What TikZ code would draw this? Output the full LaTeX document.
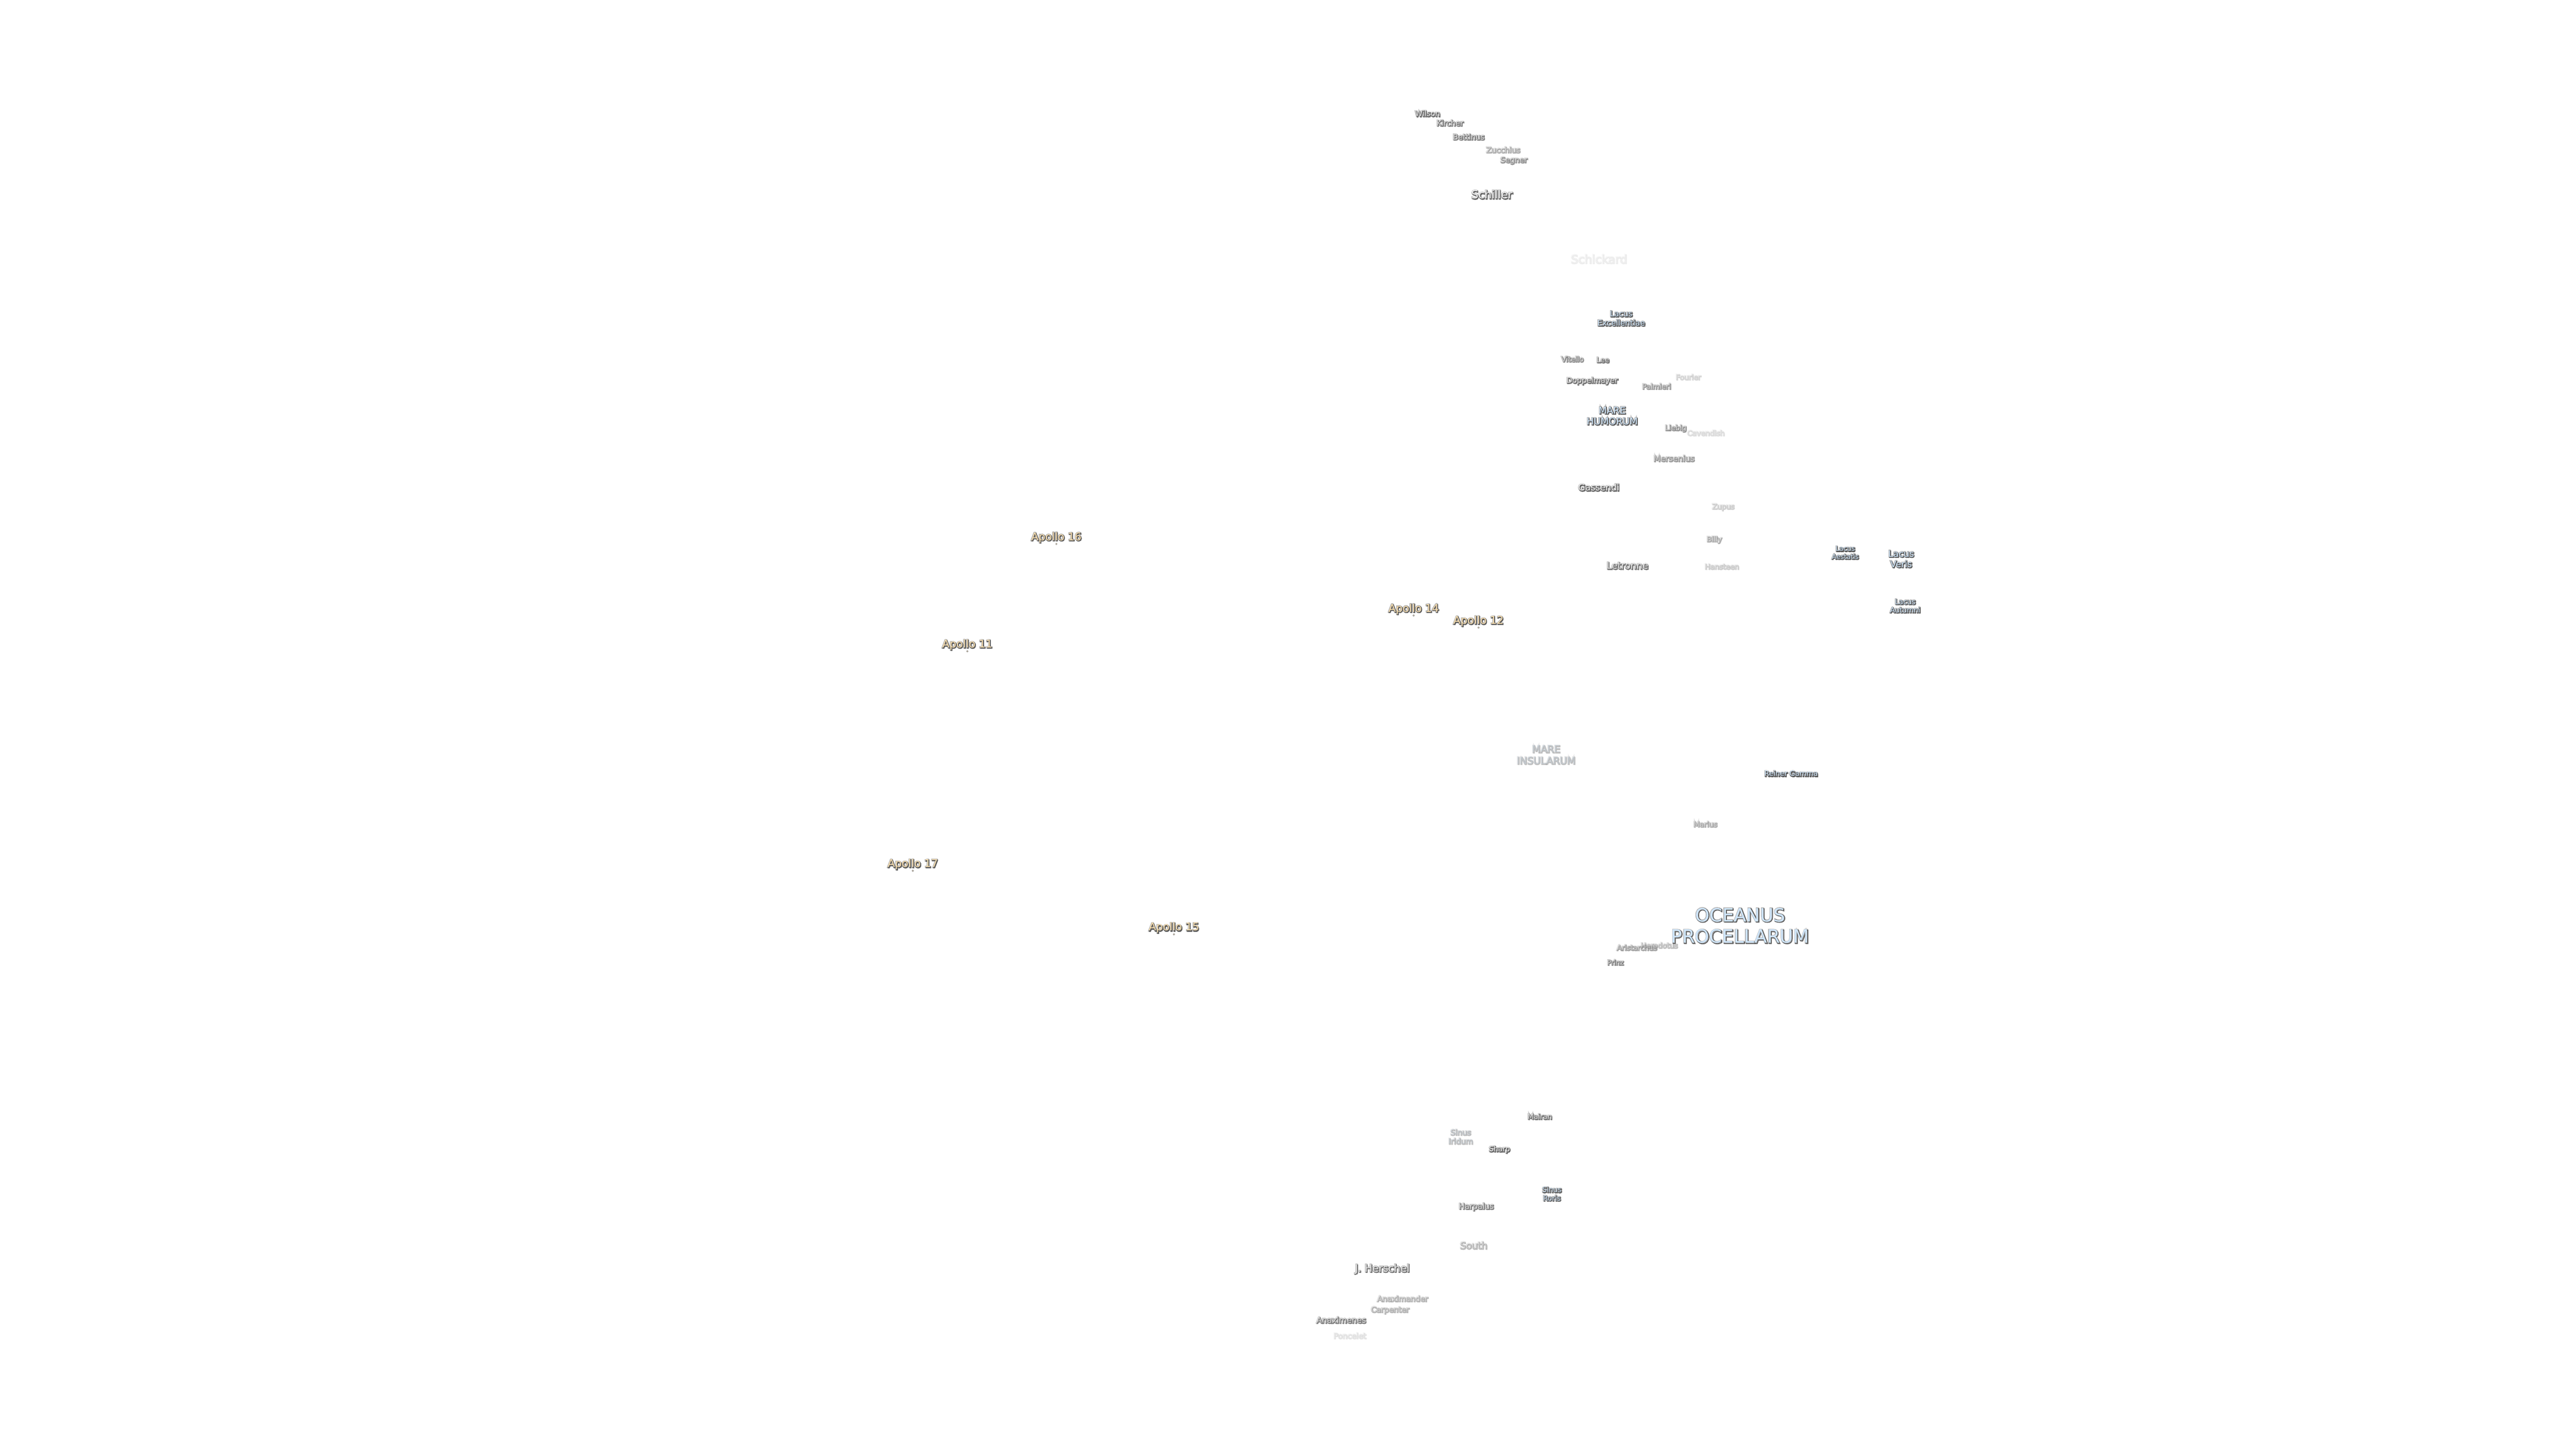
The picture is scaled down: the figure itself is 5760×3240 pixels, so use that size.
\documentclass[tikz,border=0pt]{standalone}
\usepackage{fontspec}
\usepackage{xcolor}
\setmainfont{DejaVu Sans}
\definecolor{waterblue}{HTML}{CFE6FB}
\definecolor{apollotan}{HTML}{FBE0B0}
\newcommand{\strokeset}[2]{\special{pdf:code #1 G #2 w 1 Tr}}
\newcommand{\maplabel}[7]{%
    \begin{scope}[opacity=#6]
        \node[maplayer, font=\fontsize{#5bp}{1.17\dimexpr#5bp\relax}\selectfont] (#1-halo) at (#3,#4) {\strokeset{0.68}{3.2}#7};
        \node[maplayer, font=\fontsize{#5bp}{1.17\dimexpr#5bp\relax}\selectfont, xshift=1.2bp, yshift=-1.2bp] (#1-shade) at (#3,#4) {\strokeset{0.36}{2.0}#7};
        \node[maplayer, #2, font=\fontsize{#5bp}{1.17\dimexpr#5bp\relax}\selectfont] (#1) at (#3,#4) {#7};
    \end{scope}}
\tikzset{
    maplayer/.style={inner sep=0pt, align=center},
    crater/.style={text=white},
    water/.style={text=waterblue},
    apollo/.style={text=apollotan},
    apollodot/.style={circle, inner sep=0pt, minimum size=3.6bp, draw=black!45, line width=0.9bp, fill=apollotan}
}
\begin{document}
\begin{tikzpicture}[x=1bp, y=-1bp]
    \useasboundingbox (0,0) rectangle (5760,3240);
    \foreach \nm/\x/\y/\sz/\op/\txt in {
        wilson/3192/254/17/.8/Wilson, kircher/3242/275/17/.7/Kircher, bettinus/3284/306/17/.7/Bettinus,
        zucchius/3361/335/17/.4/Zucchius, segner/3385/359/17/.55/Segner, schiller/3336/435/25/.9/Schiller,
        schickard/3575/579/26/.08/Schickard, vitello/3516/803/16/.6/Vitello, lee/3584/805/16/.75/Lee,
        doppelmayer/3560/852/17/.8/Doppelmayer, palmieri/3704/864/16/.5/Palmieri, fourier/3775/843/16/.18/Fourier,
        liebig/3747/958/16/.55/Liebig, cavendish/3814/968/16/.15/Cavendish, mersenius/3743/1025/18/.5/Mersenius,
        gassendi/3575/1090/20/.9/Gassendi, zupus/3853/1134/16/.22/Zupus, billy/3833/1207/16/.4/Billy,
        letronne/3639/1265/21/.8/Letronne, hansteen/3850/1267/16/.22/Hansteen, marius/3813/1843/16/.4/Marius,
        aristarchus/3660/2119/16/.45/Aristarchus, herodotus/3710/2114/16/.3/Herodotus, prinz/3612/2152/15/.65/Prinz,
        mairan/3443/2497/16/.75/Mairan, sharp/3353/2571/16/.9/Sharp, harpalus/3301/2699/17.5/.7/Harpalus,
        south/3295/2785/21/.35/South, herschel/3091/2838/23/.8/J. Herschel, anaximander/3136/2904/17/.35/Anaximander,
        carpenter/3108/2930/17/.35/Carpenter, anaximenes/2999/2952/18/.7/Anaximenes, poncelet/3018/2987/17/.12/Poncelet}
        \maplabel{\nm}{crater}{\x}{\y}{\sz}{\op}{\txt};
    \foreach \nm/\x/\y/\sz/\op/\txt in {
        excellentiae/3625/712/17.5/1/{Lacus\\Excellentiae}, humorum/3605/930/21/1/{MARE\\HUMORUM},
        aestatis/4126/1236/15/1/{Lacus\\Aestatis}, veris/4251/1250/20/1/{Lacus\\Veris},
        autumni/4260/1355/16/1/{Lacus\\Autumni}, insularum/3457/1688/22/.3/{MARE\\INSULARUM},
        reiner/4005/1730/16/1/Reiner Gamma, oceanus/3891/2070/41/1/{OCEANUS\\PROCELLARUM},
        iridum/3266/2542/17/.3/{Sinus\\Iridum}, roris/3470/2670/16/.9/{Sinus\\Roris}}
        \maplabel{\nm}{water}{\x}{\y}{\sz}{\op}{\txt};
    \foreach \nm/\x/\y in {16/2362/1202, 14/3161/1362, 12/3306/1389, 11/2163/1442, 17/2041/1933, 15/2625/2075}
    {
        \node[apollodot] (site\nm) at (\x,\y+14.5) {};
        \maplabel{apollo\nm}{apollo}{\x}{\y}{24}{1}{Apollo \nm};
    }
\end{tikzpicture}
\end{document}
